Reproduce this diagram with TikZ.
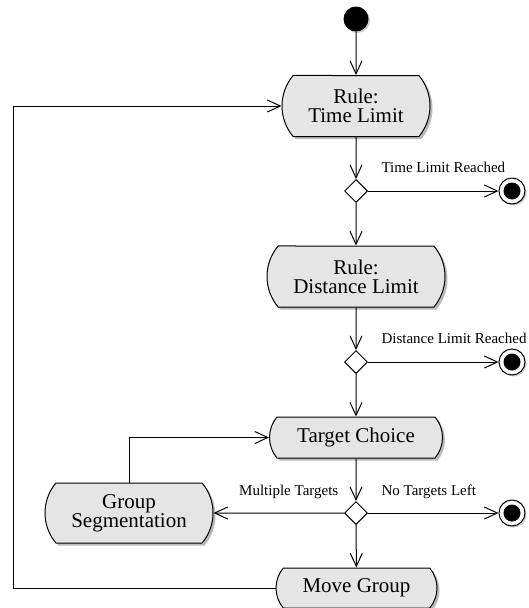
\documentclass[tikz,border=0pt]{standalone}
\usepackage{fontspec}
\setmainfont{Liberation Serif}
\usetikzlibrary{arrows.meta,shapes.misc,shapes.geometric,shadows}

\begin{document}
\begin{tikzpicture}[x=1pt, y=-1pt,
		act/.style={rounded rectangle, rounded rectangle arc length=80, draw=black, line width=1pt,
			fill=black!10, align=center, inner sep=0pt, font=\fontsize{21}{19}\selectfont,
			drop shadow={shadow xshift=2.5pt, shadow yshift=-2.5pt, fill=black!45, opacity=0.6}},
		choice/.style={diamond, draw=black, fill=white, line width=1pt, minimum size=23pt, inner sep=0pt},
		stopnode/.style={circle, draw=black, fill=white, line width=1pt, minimum size=26pt, inner sep=0pt,
			drop shadow={shadow xshift=1.5pt, shadow yshift=-1.5pt, fill=black!40, opacity=0.5},
			path picture={\fill[black] (path picture bounding box.center) circle (8.5pt);}},
		flow/.style={line width=1pt, -{Straight Barb[length=13pt, width=12pt, line width=1pt]}},
		lbl/.style={font=\fontsize{15}{15}\selectfont, inner sep=0pt}]
		%%%%% START %%%%%
		\useasboundingbox (0, 0) rectangle (528, 608);
		
		\node[circle, fill=black, minimum size=25pt, inner sep=0pt,
			drop shadow={shadow xshift=1.5pt, shadow yshift=-1.5pt, fill=black!40, opacity=0.5}] (start) at (356, 19) {};
		
		\node[act, minimum width=148pt, minimum height=61pt] (timelimit) at (356, 106) {Rule:\\Time Limit};
		\node[choice] (timecheck) at (356, 191) {};
		\node[stopnode] (timeend) at (512, 191) {};
		
		\node[act, minimum width=178pt, minimum height=61pt] (distlimit) at (356, 276.5) {Rule:\\Distance Limit};
		\node[choice] (distcheck) at (356, 362) {};
		\node[stopnode] (distend) at (512, 362) {};
		
		\node[act, minimum width=173pt, minimum height=41pt] (target) at (356, 437.5) {Target Choice};
		\node[choice] (targetcheck) at (356, 513) {};
		\node[stopnode] (targetend) at (512, 513) {};
		\node[act, minimum width=168pt, minimum height=60pt] (segment) at (129, 513) {Group\\Segmentation};
		
		\node[act, minimum width=161pt, minimum height=40pt] (move) at (356.5, 588) {Move Group};
		\coordinate (loopback) at (13, 588);
		
		\draw[flow] (start) -- (timelimit);
		\draw[flow] (timelimit) -- (timecheck);
		\draw[flow] (timecheck) -- node[lbl, anchor=base west, pos=0.1, yshift=19pt] {Time Limit Reached} (timeend);
		\draw[flow] (timecheck) -- (distlimit);
		
		\draw[flow] (distlimit) -- (distcheck);
		\draw[flow] (distcheck) -- node[lbl, anchor=base west, pos=0.1, yshift=19pt] {Distance Limit Reached} (distend);
		\draw[flow] (distcheck) -- (target);
		
		\draw[flow] (target) -- (targetcheck);
		\draw[flow] (targetcheck) -- node[lbl, anchor=base west, pos=0.1, yshift=18pt] {No Targets Left} (targetend);
		\draw[flow] (targetcheck) -- node[lbl, anchor=base east, pos=0.04, yshift=18pt] {Multiple Targets} (segment);
		\draw[flow] (targetcheck) -- (move);
		\draw[flow] (segment.north) |- (target.west);
		
		\draw[flow] (move.west) -- (loopback) |- (timelimit.west);
		
		%%%%% END %%%%%
\end{tikzpicture}
\end{document}
